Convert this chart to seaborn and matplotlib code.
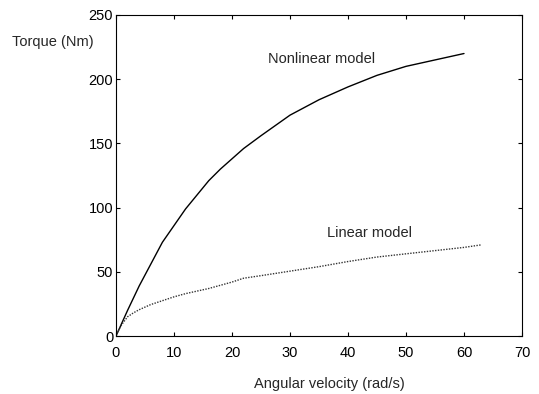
import matplotlib
matplotlib.use("Agg")
import matplotlib.pyplot as plt
import seaborn as sns
import pandas as pd

# Data
nonlinear_x = [0, 2, 4, 6, 8, 10, 12, 14, 16, 18, 20, 22, 25, 30, 35, 40, 45, 50, 55, 60]
nonlinear_y = [0, 20, 39, 56, 73, 86, 99, 110, 121, 130, 138, 146, 156, 172, 184, 194, 203, 210, 215, 220]
linear_x = [0, 0.5, 1, 1.5, 2, 3, 4, 5, 6, 8, 10, 12, 14, 16, 18, 20, 22, 25, 30, 35, 40, 45, 50, 55, 60, 63]
linear_y = [0, 5, 9, 12, 15, 18, 20.5, 22.5, 24.5, 27.5, 30.5, 33, 35, 37, 39.5, 42, 45, 47, 50.5, 54, 58, 61.5, 64, 66.5, 69, 71]
x_ticks = [0, 10, 20, 30, 40, 50, 60, 70]
y_ticks = [0, 50, 100, 150, 200, 250]

sns.set_style("ticks")
plt.rcParams["font.family"] = ["Liberation Sans", "DejaVu Sans"]

fig = plt.figure(figsize=(5.39, 3.94), dpi=100)
ax = fig.add_axes([116 / 539, (394 - 336) / 394, (522 - 116) / 539, (336 - 15) / 394])

df_nl = pd.DataFrame({"x": nonlinear_x, "y": nonlinear_y})
df_l = pd.DataFrame({"x": linear_x, "y": linear_y})
sns.lineplot(data=df_nl, x="x", y="y", ax=ax, color="black", linewidth=1.0, estimator=None)
sns.lineplot(data=df_l, x="x", y="y", ax=ax, color="#333333", linewidth=1.0, linestyle=(0, (1, 1)), estimator=None)

ax.set_xlim(0, 70)
ax.set_ylim(0, 250)
ax.set_xticks(x_ticks)
ax.set_yticks(y_ticks)
ax.set_xticklabels([str(v) for v in x_ticks])
ax.set_yticklabels([str(v) for v in y_ticks])
ax.set_xlabel("")
ax.set_ylabel("")

for s in ax.spines.values():
    s.set_visible(True)
    s.set_linewidth(0.8)
    s.set_color("black")

ax.tick_params(axis="both", direction="in", length=3, width=0.8, colors="black",
               labelsize=10.5, top=True, right=True)
ax.tick_params(axis="x", pad=7)
ax.tick_params(axis="y", pad=2)

ax.text(26.2, 216, "Nonlinear model", fontsize=10.5, va="center", ha="left")
ax.text(36.4, 80, "Linear model", fontsize=10.5, va="center", ha="left")

fig.text(12 / 539, 1 - 42 / 394, "Torque (Nm)", fontsize=10.5, ha="left", va="center")
fig.text(329.5 / 539, 1 - 384 / 394, "Angular velocity (rad/s)", fontsize=10.5, ha="center", va="center")

fig.savefig("out.png", dpi=100)
